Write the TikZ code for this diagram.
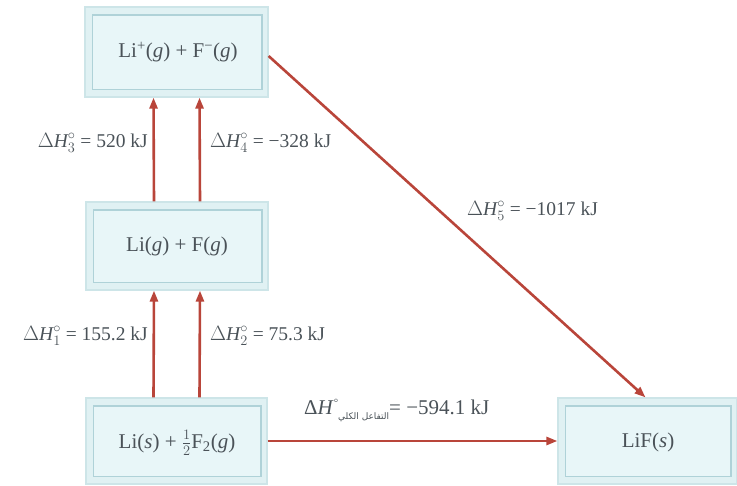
\documentclass[tikz,border=0pt]{standalone}
\usepackage{fontspec}
\setmainfont{Liberation Serif}
\newfontfamily\arabicfont[Script=Arabic]{DejaVu Sans}
\TeXXeTstate=1
\usetikzlibrary{arrows.meta}
\definecolor{boxfill}{HTML}{E8F6F8}
\definecolor{bandfill}{HTML}{E0F1F3}
\definecolor{outerline}{HTML}{CDE5E8}
\definecolor{innerline}{HTML}{AFD2D8}
\definecolor{arrowred}{HTML}{B9453A}
\definecolor{labelgray}{HTML}{4A5258}
\newcommand{\dHlab}[1]{$\Delta\mathit{H}^{\circ}_{#1}$}
\tikzset{
  enbox/.style={draw=outerline, line width=1.2pt, fill=bandfill, rectangle, inner sep=0pt},
  boxtext/.style={font=\fontsize{21}{24}\selectfont, text=labelgray, inner sep=1pt},
  arr/.style={draw=arrowred, line width=2.6pt, -{Triangle[length=11pt,width=8pt]}},
  lab/.style={font=\fontsize{19.5}{22}\selectfont, text=labelgray, inner sep=0pt}
}
\newcommand{\innerbox}[1]{%
  \draw[draw=innerline, line width=1.8pt, fill=boxfill]
    ([xshift=8pt,yshift=-9pt]#1.north west) rectangle ([xshift=-7pt,yshift=8pt]#1.south east);}
\begin{document}
\begin{tikzpicture}[x=1pt,y=-1pt]
\useasboundingbox (0,0) rectangle (737,486);
% boxes
\node[enbox, minimum width=183pt, minimum height=90pt] (top) at (176.5,52) {};
\innerbox{top}
\node[boxtext] (toplab) at (178,52) {Li\textsuperscript{+}(\textit{g}) + F\textsuperscript{−}(\textit{g})};
\node[enbox, minimum width=182pt, minimum height=88pt] (mid) at (177,246) {};
\innerbox{mid}
\node[boxtext] (midlab) at (177,246) {Li(\textit{g}) + F(\textit{g})};
\node[enbox, minimum width=181pt, minimum height=86pt] (bot) at (176.5,441) {};
\innerbox{bot}
\node[boxtext] (botlab) at (177,443) {Li(\textit{s}) + $\frac{1}{2}$F\textsubscript{2}(\textit{g})};
\node[enbox, minimum width=179pt, minimum height=86pt] (lif) at (647.5,441) {};
\innerbox{lif}
\node[boxtext] (liflab) at (648,442) {LiF(\textit{s})};
% arrows
\draw[arr] ([xshift=-23pt]mid.north) -- ([xshift=-23pt]top.south);
\draw[arr] ([xshift=23pt]mid.north) -- ([xshift=23pt]top.south);
\draw[arr] ([xshift=-23pt]bot.north) -- ([xshift=-23pt]mid.south);
\draw[arr] ([xshift=23pt]bot.north) -- ([xshift=23pt]mid.south);
\draw[arr] ([yshift=-4pt]top.east) -- ([xshift=-2pt]lif.north);
\draw[arr] (bot.east) -- (lif.west);
% labels
\node[lab, anchor=east] (l3) at (148,143) {\dHlab{3} = 520 kJ};
\node[lab, anchor=west] (l4) at (210,143) {\dHlab{4} = −328 kJ};
\node[lab, anchor=east] (l1) at (148,336) {\dHlab{1} = 155.2 kJ};
\node[lab, anchor=west] (l2) at (210,336) {\dHlab{2} = 75.3 kJ};
\node[lab, anchor=west] (l5) at (467,211) {\dHlab{5} = −1017 kJ};
\node[lab, anchor=west, font=\fontsize{21}{24}\selectfont] (l0) at (304,410) {Δ\textit{H}\raisebox{8pt}{\fontsize{11}{11}\selectfont °}\raisebox{-5pt}{\fontsize{9}{9}\selectfont\arabicfont\beginR التفاعل الكلي\endR}= −594.1 kJ};
\end{tikzpicture}
\end{document}
